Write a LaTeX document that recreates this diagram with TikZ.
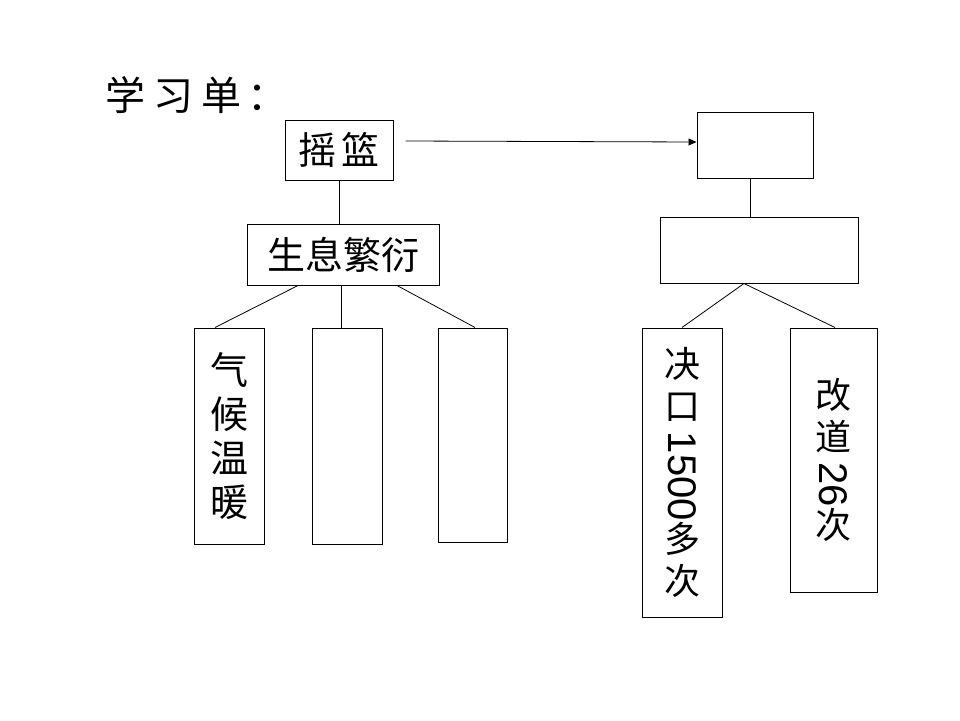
\documentclass[tikz,border=0pt]{standalone}
\usepackage{fontspec}
\usepackage{graphicx}
\setmainfont{Liberation Sans}
\newfontfamily\cjk{Noto Sans CJK SC}
\newfontfamily\digitfont{Liberation Sans}
\usetikzlibrary{arrows.meta}

\begin{document}
\begin{tikzpicture}[x=1pt,y=-1pt]

      \useasboundingbox[fill=white] (0,0) rectangle (960,720);

      \node[anchor=west,font=\cjk\fontsize{40}{44}\selectfont] (title) at (102,95)
        {学\hspace{8pt}习\hspace{8pt}单\hspace{6pt}：};

      \begin{scope}[every node/.style={draw,line width=1pt,inner sep=0pt,align=center,
          font=\cjk\fontsize{38}{44}\selectfont}]
        \node[minimum width=108,minimum height=60]  (cradle) at (339,150)   {摇\hspace{6pt}篮};
        \node[minimum width=192,minimum height=61]  (breed)  at (343,254.5) {生息繁衍};
        \node[minimum width=70,minimum height=216]  (c1)     at (229,436)   {气\\候\\温\\暖};
        \node[minimum width=70,minimum height=216]  (c2)     at (347,436)   {};
        \node[minimum width=69,minimum height=214]  (c3)     at (472.5,435) {};
        \node[minimum width=116,minimum height=66]  (top)    at (755,145)   {};
        \node[minimum width=198,minimum height=66]  (mid)    at (759,250)   {};
      \end{scope}

      \begin{scope}[every node/.style={draw,line width=1pt,inner sep=0pt,align=center,
          font=\cjk\fontsize{36}{42}\selectfont}]
        \node[minimum width=80,minimum height=289]  (breach) at (682,472.5)
          {决\\口\\[-30pt]\rotatebox{-90}{\digitfont\fontsize{40}{42}\selectfont 1500}\\多\\次};
        \node[minimum width=87,minimum height=264]  (shift)  at (833.5,460)
          {改\\道\\[-30pt]\rotatebox{-90}{\digitfont\fontsize{40}{42}\selectfont 26}\\次};
      \end{scope}

      \begin{scope}[line width=.8pt]
        \draw (cradle.south) -- (cradle.south |- breed.north);
        \draw ([xshift=-45]breed.south) -- ([xshift=-14]c1.north);
        \draw ([xshift=-2]breed.south) -- ([xshift=-6]c2.north);
        \draw ([xshift=54]breed.south) -- ([xshift=2.5]c3.north);
        \draw[-{Triangle[length=8pt,width=7pt]}] ([xshift=12,yshift=9]cradle.east) -- ([yshift=3]top.west);
        \draw ([xshift=-5]top.south) -- ([xshift=-5]top.south |- mid.north);
        \draw ([xshift=-15]mid.south) -- (breach.north);
        \draw ([xshift=-15]mid.south) -- ([xshift=1.5]shift.north);
      \end{scope}

    \end{tikzpicture}
\end{document}
